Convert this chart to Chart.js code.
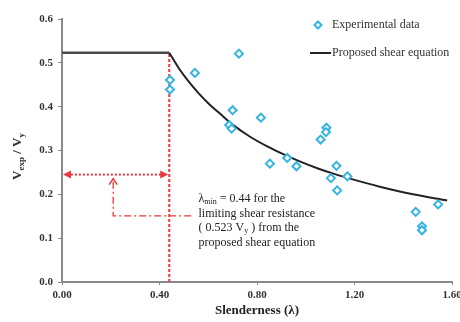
<!DOCTYPE html>
<html>
<head>
<meta charset="utf-8">
<script src="https://cdn.jsdelivr.net/npm/chart.js@4"></script>
<style>
  html, body { margin: 0; padding: 0; background: #fff; }
  #wrap { width: 460px; height: 322px; }
</style>
</head>
<body>
<div id="wrap"><canvas id="chart" width="460" height="322"></canvas></div>
<script>
// Experimental points
const expX = [0.443, 0.443, 0.545, 0.726, 0.700, 0.686, 0.696, 0.816, 1.085, 1.083, 1.061,
              0.853, 0.924, 0.962, 1.126, 1.103, 1.171, 1.129, 1.451, 1.543, 1.477, 1.477];
const expY = [0.461, 0.439, 0.477, 0.521, 0.392, 0.358, 0.350, 0.375, 0.352, 0.342, 0.325,
              0.270, 0.283, 0.264, 0.265, 0.237, 0.241, 0.209, 0.160, 0.177, 0.127, 0.118];

// Proposed shear equation (plateau + decaying branch)
const plateauX = [0.00, 0.44];
const plateauY = [0.523, 0.523];
const curveX = [0.44, 0.48, 0.52, 0.56, 0.60, 0.65, 0.70, 0.77, 0.84, 0.91, 0.98, 1.05, 1.12, 1.20, 1.30, 1.44, 1.58];
const curveY = [0.523, 0.487, 0.457, 0.431, 0.408, 0.383, 0.359, 0.332, 0.310, 0.291, 0.274, 0.259, 0.246, 0.233, 0.218, 0.200, 0.186];

// Annotation values
const lambdaMin = 0.44;
const vLimit = 0.523;
const arrowY = 0.245;
const bracketX = [0.53, 0.21, 0.21];
const bracketY = [0.151, 0.151, 0.236];

const xTicks = [0, 0.4, 0.8, 1.2, 1.6];
const legendLabels = ["Experimental data", "Proposed shear equation"];

const cyan = "#35b3e3";
const red = "#e8373d";
const serif = "'Liberation Serif', 'DejaVu Serif', serif";

function pts(xs, ys) {
    return xs.map((x, i) => ({ x: x, y: ys[i] }));
}

// Arrowheads, annotation text, axis title with subscripts and the legend
const extras = {
    id: "extras",
    afterDraw(chart) {
        const ctx = chart.ctx;
        const xs = chart.scales.x;
        const ys = chart.scales.y;
        const px = v => xs.getPixelForValue(v);
        const py = v => ys.getPixelForValue(v);

        ctx.save();
        ctx.fillStyle = red;
        ctx.strokeStyle = red;

        // horizontal double arrow heads
        const ay = py(arrowY);
        const xl = px(0) + 1, xr = px(lambdaMin) - 1;
        ctx.beginPath();
        ctx.moveTo(xl, ay); ctx.lineTo(xl + 8, ay - 4); ctx.lineTo(xl + 8, ay + 4); ctx.closePath();
        ctx.fill();
        ctx.beginPath();
        ctx.moveTo(xr, ay); ctx.lineTo(xr - 8, ay - 4); ctx.lineTo(xr - 8, ay + 4); ctx.closePath();
        ctx.fill();

        // up arrow on bracket
        const ux = px(bracketX[2]), uy = py(bracketY[2]);
        ctx.lineWidth = 1.5;
        ctx.setLineDash([]);
        ctx.beginPath();
        ctx.moveTo(ux - 4, uy + 6); ctx.lineTo(ux, uy); ctx.lineTo(ux + 4, uy + 6);
        ctx.stroke();

        // annotation text
        ctx.fillStyle = "#222";
        ctx.textBaseline = "middle";
        ctx.textAlign = "left";
        const tx = px(0.56);
        let ty = py(0.189);
        const big = "12px " + serif, small = "8px " + serif;
        function run(parts, x, y) {
            parts.forEach(p => {
                ctx.font = p[1] ? small : big;
                ctx.fillText(p[0], x, y + (p[1] ? 3 : 0));
                x += ctx.measureText(p[0]).width;
            });
        }
        run([["\u03bb", 0], ["min", 1], [" = 0.44 for the", 0]], tx, ty);
        run([["limiting shear resistance", 0]], tx, ty + 14.5);
        run([["( 0.523 V", 0], ["y", 1], [" ) from the", 0]], tx, ty + 29);
        run([["proposed shear equation", 0]], tx, ty + 43.5);

        // y axis title V_exp / V_y
        ctx.save();
        ctx.translate(18, (chart.chartArea.top + chart.chartArea.bottom) / 2 + 6);
        ctx.rotate(-Math.PI / 2);
        ctx.fillStyle = "#333";
        const tb = "bold 13px " + serif, ts = "bold 9px " + serif;
        const parts = [["V", 0], ["exp", 1], [" / V", 0], ["y", 1]];
        let w = 0;
        parts.forEach(p => { ctx.font = p[1] ? ts : tb; w += ctx.measureText(p[0]).width; });
        let x0 = -w / 2;
        parts.forEach(p => {
            ctx.font = p[1] ? ts : tb;
            ctx.fillText(p[0], x0, p[1] ? 4 : 0);
            x0 += ctx.measureText(p[0]).width;
        });
        ctx.restore();

        // legend
        ctx.font = "12px " + serif;
        ctx.fillStyle = "#333";
        ctx.fillText(legendLabels[0], 332, 25);
        ctx.fillText(legendLabels[1], 332, 53);
        ctx.strokeStyle = cyan;
        ctx.fillStyle = "#fff";
        ctx.lineWidth = 2;
        ctx.beginPath();
        ctx.moveTo(318, 21.5); ctx.lineTo(321.5, 25); ctx.lineTo(318, 28.5); ctx.lineTo(314.5, 25); ctx.closePath();
        ctx.fill(); ctx.stroke();
        ctx.strokeStyle = "#222";
        ctx.lineWidth = 2;
        ctx.beginPath();
        ctx.moveTo(310, 53); ctx.lineTo(331, 53);
        ctx.stroke();
        ctx.restore();
    }
};

const ctx = document.getElementById("chart").getContext("2d");
new Chart(ctx, {
    type: "scatter",
    data: {
        datasets: [
            {
                label: "limit",
                type: "line",
                data: [{ x: lambdaMin, y: 0 }, { x: lambdaMin, y: vLimit }],
                borderColor: red,
                borderWidth: 2,
                borderDash: [3, 2],
                pointRadius: 0,
                order: 5
            },
            {
                label: "arrow",
                type: "line",
                data: [{ x: 0.02, y: arrowY }, { x: lambdaMin - 0.02, y: arrowY }],
                borderColor: red,
                borderWidth: 2,
                borderDash: [2, 2],
                pointRadius: 0,
                order: 5
            },
            {
                label: "bracket",
                type: "line",
                data: pts(bracketX, bracketY),
                borderColor: red,
                borderWidth: 1.3,
                borderDash: [7, 3, 2, 3],
                pointRadius: 0,
                order: 5
            },
            {
                label: "plateau",
                type: "line",
                data: pts(plateauX, plateauY),
                borderColor: "#4a4a4a",
                borderWidth: 2.5,
                pointRadius: 0,
                order: 3
            },
            {
                label: legendLabels[1],
                type: "line",
                data: pts(curveX, curveY),
                borderColor: "#222",
                borderWidth: 2,
                cubicInterpolationMode: "monotone",
                pointRadius: 0,
                order: 2
            },
            {
                label: legendLabels[0],
                data: pts(expX, expY),
                pointStyle: "rectRot",
                pointRadius: 4,
                pointBorderWidth: 2,
                borderColor: cyan,
                backgroundColor: "#fff",
                order: 1
            }
        ]
    },
    options: {
        responsive: false,
        animation: false,
        layout: { padding: { top: 19, right: 8, left: 0, bottom: 0 } },
        plugins: {
            legend: { display: false },
            tooltip: { enabled: false }
        },
        scales: {
            x: {
                type: "linear",
                min: 0,
                max: 1.6,
                afterBuildTicks: s => { s.ticks = xTicks.map(v => ({ value: v })); },
                afterFit: s => { s.height = 40; s.paddingLeft = 0; s.paddingRight = 0; },
                ticks: {
                    callback: v => v.toFixed(2),
                    color: "#333",
                    padding: 4,
                    maxRotation: 0,
                    font: { family: serif, size: 11, weight: "bold" }
                },
                grid: { drawOnChartArea: false, tickLength: 3, color: "#888", lineWidth: 1 },
                border: { color: "#8a8a8a", width: 2 },
                title: {
                    display: true,
                    text: "Slenderness (\u03bb)",
                    color: "#222",
                    padding: { top: 0, bottom: 4 },
                    font: { family: serif, size: 13, weight: "bold" }
                }
            },
            y: {
                min: 0,
                max: 0.6,
                afterFit: s => { s.width = 62; s.paddingTop = 0; s.paddingBottom = 0; },
                ticks: {
                    stepSize: 0.1,
                    callback: v => v.toFixed(1),
                    color: "#333",
                    padding: 5,
                    font: { family: serif, size: 11, weight: "bold" }
                },
                grid: { drawOnChartArea: false, tickLength: 4, color: "#888", lineWidth: 1 },
                border: { color: "#8a8a8a", width: 2 }
            }
        }
    },
    plugins: [extras]
});
</script>
</body>
</html>
